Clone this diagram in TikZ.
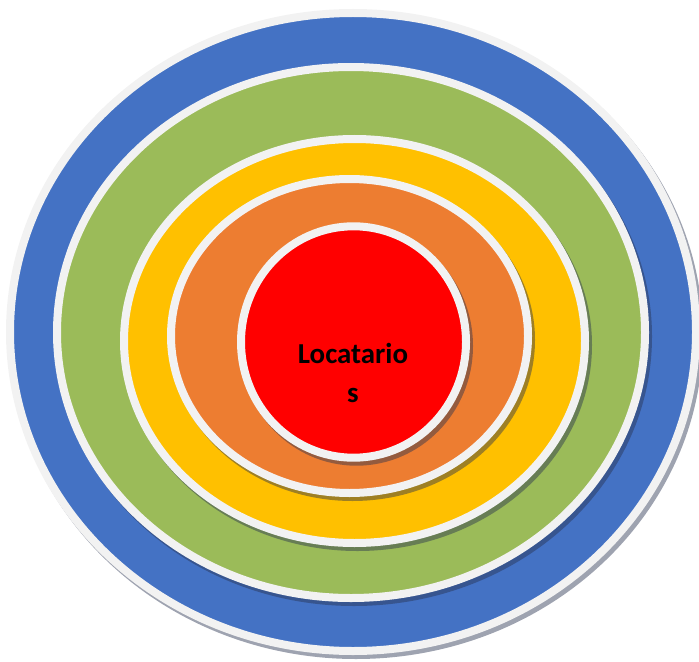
\documentclass[tikz,border=0pt]{standalone}
\usepackage{fontspec}
\setmainfont{Carlito}
\definecolor{ringedge}{HTML}{F2F2F2}
\definecolor{ringblue}{HTML}{4472C4}
\definecolor{ringgreen}{HTML}{9BBB59}
\definecolor{ringyellow}{HTML}{FFC000}
\definecolor{ringorange}{HTML}{ED7D31}
\definecolor{ringred}{HTML}{FF0000}
\definecolor{shadowc}{RGB}{40,50,80}
\begin{document}
\begin{tikzpicture}[x=1bp, y=-1bp,
    ring/.style={draw=ringedge, line width=8bp},
    shade/.style={fill=shadowc, opacity=.45},
    every node/.style={font=\bfseries\fontsize{29}{39}\selectfont}]
  \useasboundingbox (0,0) rectangle (699,662);
  \coordinate (B) at (353,332); \coordinate (G) at (351,332.5);
  \coordinate (Y) at (354.5,341); \coordinate (O) at (349.5,336);
  \coordinate (R) at (353.5,342);
  % outer ring
  \fill[shade] ([shift={(3,4)}]B) ellipse [x radius=347, y radius=323];
  \draw[ring, fill=ringblue] (B) ellipse [x radius=343, y radius=319];
  \fill[shade] ([shift={(3,4)}]G) ellipse [x radius=298, y radius=269.5];
  \draw[ring, fill=ringgreen] (G) ellipse [x radius=294, y radius=265.5];
  \fill[shade] ([shift={(3,4)}]Y) ellipse [x radius=234.5, y radius=206];
  \draw[ring, fill=ringyellow] (Y) ellipse [x radius=230.5, y radius=202];
  \fill[shade] ([shift={(3,4)}]O) ellipse [x radius=182.5, y radius=161];
  \draw[ring, fill=ringorange] (O) ellipse [x radius=178.5, y radius=157];
  % centre
  \fill[shade] ([shift={(3,4)}]R) ellipse [x radius=116.5, y radius=119.7];
  \draw[ring, fill=ringred] (R) ellipse [x radius=112.5, y radius=115.7];
  \node[align=center, anchor=base] (tenants) at (353,402) {Locatario\\s};
\end{tikzpicture}
\end{document}
